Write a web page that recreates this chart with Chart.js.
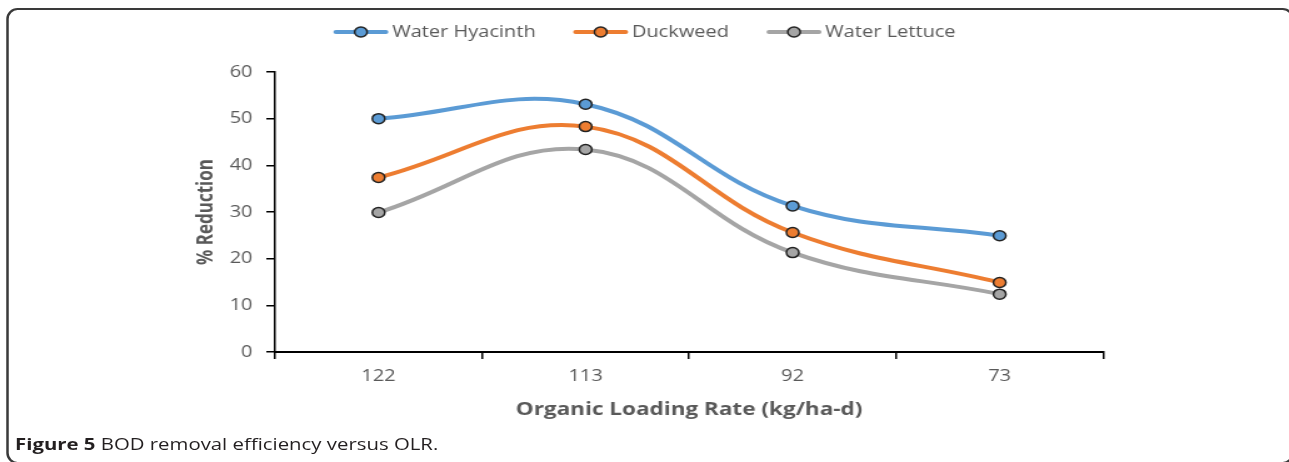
<!DOCTYPE html>
<html>
<head>
<meta charset="utf-8">
<script src="https://cdn.jsdelivr.net/npm/chart.js@4"></script>
<style>
  html, body { margin: 0; padding: 0; background: #fff; }
  body { width: 1289px; height: 462px; position: relative; overflow: hidden; }
  /* the whole figure is laid out 1031px wide and widened to 1289px */
  #figure {
    position: absolute; left: 0; top: 0; width: 1031px; height: 462px;
    transform: scaleX(1.2502); transform-origin: 0 0;
  }
  #frame {
    position: absolute; left: 5px; top: 8px; width: 1030px; height: 456px;
    box-sizing: border-box; border: 2px solid #3a3a3a; border-radius: 9px / 11px;
  }
  #wrap { position: absolute; left: 0; top: 0; width: 1031px; height: 462px; }
  #caption {
    position: absolute; left: 12px; top: 433px;
    font-family: "Open Sans", sans-serif; font-size: 16.3px; color: #231f20;
    white-space: nowrap;
  }
  #caption b { font-weight: 700; }
</style>
</head>
<body>
<div id="figure">
  <div id="frame"></div>
  <div id="wrap"><canvas id="chart" width="1031" height="462"></canvas></div>
  <div id="caption"><b>Figure 5</b> BOD removal efficiency versus OLR.</div>
</div>
<script>
// Organic loading rate categories (kg/ha-d)
const categories = ['122', '113', '92', '73'];

// % BOD reduction for each plant
const waterHyacinth = [50, 53.1, 31.3, 24.9];
const duckweed = [37.4, 48.3, 25.6, 14.9];
const waterLettuce = [29.9, 43.4, 21.3, 12.4];

// y-axis tick values
const yTicks = [0, 10, 20, 30, 40, 50, 60];

const seriesNames = ['Water Hyacinth', 'Duckweed', 'Water Lettuce'];
const seriesColors = ['#5B9BD5', '#ED7D31', '#A5A5A5'];
const seriesValues = [waterHyacinth, duckweed, waterLettuce];

const textGray = '#595959';
const fontFamily = '"Open Sans", sans-serif';

// Legend row: line segment with a circle marker, followed by the series name
const lineLegend = {
  id: 'lineLegend',
  afterDraw(chart) {
    const ctx = chart.ctx;
    const items = chart.data.datasets;
    const lineLen = 44, gapText = 3, gapItem = 30, yMid = 32;
    ctx.save();
    ctx.font = '16px ' + fontFamily;
    const widths = items.map(d => lineLen + gapText + ctx.measureText(d.label).width);
    const total = widths.reduce((a, b) => a + b, 0) + gapItem * (items.length - 1);
    let x = chart.width / 2 - total / 2;
    items.forEach((d, i) => {
      ctx.strokeStyle = d.borderColor;
      ctx.lineWidth = 4;
      ctx.lineCap = 'round';
      ctx.beginPath();
      ctx.moveTo(x + 2, yMid);
      ctx.lineTo(x + lineLen - 2, yMid);
      ctx.stroke();
      ctx.beginPath();
      ctx.arc(x + lineLen / 2, yMid, 5, 0, Math.PI * 2);
      ctx.fillStyle = d.pointBackgroundColor;
      ctx.fill();
      ctx.lineWidth = 1.5;
      ctx.strokeStyle = d.pointBorderColor;
      ctx.stroke();
      ctx.fillStyle = textGray;
      ctx.textAlign = 'left';
      ctx.textBaseline = 'middle';
      ctx.fillText(d.label, x + lineLen + gapText, yMid);
      x += widths[i] + gapItem;
    });
    ctx.restore();
  }
};

new Chart(document.getElementById('chart'), {
  type: 'line',
  data: {
    labels: categories,
    datasets: seriesValues.map((vals, i) => ({
      label: seriesNames[i],
      data: vals,
      borderColor: seriesColors[i],
      backgroundColor: seriesColors[i],
      pointBackgroundColor: seriesColors[i],
      pointBorderColor: '#222222',
      pointBorderWidth: 1.5,
      pointRadius: 5,
      borderWidth: 4,
      tension: 0.4,
      fill: false
    }))
  },
  options: {
    responsive: false,
    animation: false,
    layout: { padding: { left: 155.4, right: 148.6, top: 72, bottom: 40 } },
    plugins: {
      legend: { display: false },
      tooltip: { enabled: false }
    },
    scales: {
      x: {
        type: 'category',
        offset: true,
        grid: {
          offset: true,
          drawOnChartArea: false,
          drawTicks: true,
          tickLength: 7,
          color: '#000',
          lineWidth: 1.5
        },
        border: { display: true, color: '#000', width: 2 },
        ticks: {
          color: textGray,
          font: { family: fontFamily, size: 16 },
          padding: 8,
          maxRotation: 0
        },
        title: {
          display: true,
          text: 'Organic Loading Rate (kg/ha-d)',
          color: textGray,
          font: { family: fontFamily, size: 18, weight: 'bold' },
          padding: { top: 0, bottom: 1 }
        },
        afterFit(scale) { scale.height = 70; }
      },
      y: {
        min: yTicks[0],
        max: yTicks[yTicks.length - 1],
        afterBuildTicks(scale) { scale.ticks = yTicks.map(v => ({ value: v })); },
        grid: {
          drawOnChartArea: false,
          drawTicks: true,
          tickLength: 7,
          color: '#000',
          lineWidth: 1.5
        },
        border: { display: true, color: '#000', width: 1.5 },
        ticks: {
          color: textGray,
          font: { family: fontFamily, size: 16 },
          padding: 11
        },
        title: {
          display: true,
          text: '% Reduction',
          color: textGray,
          font: { family: fontFamily, size: 17, weight: 'bold' },
          padding: { top: 0, bottom: 0 }
        },
        afterFit(scale) { scale.width = 64.6; }
      }
    }
  },
  plugins: [lineLegend]
});
</script>
</body>
</html>
